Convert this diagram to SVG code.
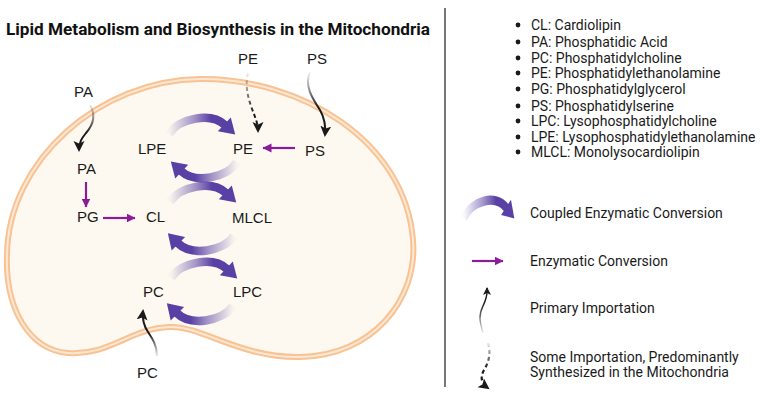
<svg xmlns="http://www.w3.org/2000/svg" xmlns:xlink="http://www.w3.org/1999/xlink" width="760" height="408" viewBox="0 0 760 408">
<style>
.lbl{font-family:"Liberation Sans",Arial,sans-serif;font-size:15px;fill:#1a1a1a}
.leg{font-family:Roboto,"Liberation Sans",sans-serif;font-size:14px;fill:#1a1a1a}
.title{font-family:Roboto,"Liberation Sans",sans-serif;font-size:17px;font-weight:bold;fill:#111}
.enz{stroke:#8a1c9a;stroke-width:2.2;fill:none;marker-end:url(#mPurple)}
.imp{stroke-width:2;fill:none;marker-end:url(#mBlack)}
</style>
<defs>
<marker id="mPurple" markerUnits="userSpaceOnUse" markerWidth="10" markerHeight="10" refX="8.5" refY="4.5" orient="auto"><path d="M0,0 L9,4.5 L0,9 z" fill="#8a1c9a"/></marker>
<marker id="mBlack" markerUnits="userSpaceOnUse" markerWidth="12" markerHeight="12" refX="9" refY="5.5" orient="auto"><path d="M0,0 L11,5.5 L0,11 L2.5,5.5 z" fill="#1a1a1a"/></marker>
<marker id="mBlackS" markerUnits="userSpaceOnUse" markerWidth="9" markerHeight="9" refX="7" refY="4" orient="auto"><path d="M0,0 L8,4 L0,8 L2,4 z" fill="#1a1a1a"/></marker>
<linearGradient id="gArc" x1="0" y1="0" x2="1" y2="0">
<stop offset="0" stop-color="#5840a5" stop-opacity="0.03"/>
<stop offset="0.45" stop-color="#5840a5" stop-opacity="0.55"/>
<stop offset="0.75" stop-color="#5840a5" stop-opacity="1"/>
</linearGradient>
<g id="carc">
<path d="M0 0 C10 -16 42 -22 56 -9" fill="none" stroke="url(#gArc)" stroke-width="8.5"/>
<polygon points="48.8,-2.8 61.8,-16.6 66.2,0.5" fill="#5840a5"/>
</g>
<linearGradient id="gPA" gradientUnits="userSpaceOnUse" x1="90" y1="104" x2="86" y2="133"><stop offset="0" stop-color="#1a1a1a" stop-opacity="0.05"/><stop offset="1" stop-color="#1a1a1a"/></linearGradient>
<linearGradient id="gPS" gradientUnits="userSpaceOnUse" x1="310" y1="72" x2="318" y2="108"><stop offset="0" stop-color="#1a1a1a" stop-opacity="0.05"/><stop offset="1" stop-color="#1a1a1a"/></linearGradient>
<linearGradient id="gPE" gradientUnits="userSpaceOnUse" x1="248" y1="72" x2="254" y2="112"><stop offset="0" stop-color="#1a1a1a" stop-opacity="0.05"/><stop offset="1" stop-color="#1a1a1a"/></linearGradient>
<linearGradient id="gPC" gradientUnits="userSpaceOnUse" x1="157" y1="357" x2="149" y2="334"><stop offset="0" stop-color="#1a1a1a" stop-opacity="0.05"/><stop offset="1" stop-color="#1a1a1a"/></linearGradient>
<linearGradient id="gL1" gradientUnits="userSpaceOnUse" x1="483" y1="334" x2="484" y2="305"><stop offset="0" stop-color="#1a1a1a" stop-opacity="0.05"/><stop offset="1" stop-color="#1a1a1a"/></linearGradient>
<linearGradient id="gL2" gradientUnits="userSpaceOnUse" x1="488" y1="342" x2="486" y2="368"><stop offset="0" stop-color="#1a1a1a" stop-opacity="0.05"/><stop offset="1" stop-color="#1a1a1a"/></linearGradient>
</defs>
<rect width="760" height="408" fill="#ffffff"/>
<text class="title" x="6" y="35" textLength="424" lengthAdjust="spacingAndGlyphs">Lipid Metabolism and Biosynthesis in the Mitochondria</text>

<g id="mitochondrion">
<path id="mem" d="M200 79 C300 78 405 140 413 240 C418 300 372 356 300 357 C240 358 202 326 170 327 C130 328 110 356 68 353 C30 350 5 310 7 255 C8 160 100 80 200 79 Z" fill="#fef9f0" stroke="#f8c394" stroke-width="6"/>
<path d="M200 79 C300 78 405 140 413 240 C418 300 372 356 300 357 C240 358 202 326 170 327 C130 328 110 356 68 353 C30 350 5 310 7 255 C8 160 100 80 200 79 Z" fill="none" stroke="#fde7d3" stroke-width="2"/>
</g>

<g id="connectors">
<use xlink:href="#carc" transform="translate(169,134)"/>
<use xlink:href="#carc" transform="translate(237,162) rotate(180)"/>
<use xlink:href="#carc" transform="translate(170,202)"/>
<use xlink:href="#carc" transform="translate(234,236) rotate(182)"/>
<use xlink:href="#carc" transform="translate(171,278)"/>
<use xlink:href="#carc" transform="translate(233,306) rotate(182)"/>
<line class="enz" x1="86" y1="182" x2="86" y2="207"/>
<line class="enz" x1="103" y1="218" x2="135" y2="218"/>
<line class="enz" x1="295" y1="148" x2="263" y2="148"/>
<path class="imp" stroke="url(#gPA)" d="M90 105 C96 115 93 125 86 133 C82 138 79 142 79 150"/>
<path class="imp" stroke="url(#gPS)" d="M310 72 C304 85 312 98 320 110 C324 117 326 124 325 135"/>
<path class="imp" stroke="url(#gPE)" stroke-width="2.5" stroke-dasharray="4 3" d="M248 73 C244 88 250 104 254 114 C256 120 258 124 258 131"/>
<path class="imp" stroke="url(#gPC)" d="M157 356 C157 345 152 338 148 332 C144 326 142 320 143 311"/>
</g>

<g id="labels">
<text class="lbl" x="238" y="64">PE</text>
<text class="lbl" x="307" y="64">PS</text>
<text class="lbl" x="74" y="97">PA</text>
<text class="lbl" x="138" y="154">LPE</text>
<text class="lbl" x="233" y="154">PE</text>
<text class="lbl" x="305" y="156">PS</text>
<text class="lbl" x="77" y="174">PA</text>
<text class="lbl" x="77" y="222">PG</text>
<text class="lbl" x="146" y="222">CL</text>
<text class="lbl" x="232" y="223">MLCL</text>
<text class="lbl" x="143" y="297">PC</text>
<text class="lbl" x="233" y="297">LPC</text>
<text class="lbl" x="137" y="378">PC</text>
</g>

<line id="separator" x1="445" y1="8" x2="445" y2="387" stroke="#555" stroke-width="1.6"/>

<g id="abbreviations" class="leg">
<g fill="#1a1a1a">
<circle cx="518" cy="25" r="2.4"/><circle cx="518" cy="42" r="2.4"/><circle cx="518" cy="58" r="2.4"/>
<circle cx="518" cy="73" r="2.4"/><circle cx="518" cy="89" r="2.4"/><circle cx="518" cy="106" r="2.4"/>
<circle cx="518" cy="121" r="2.4"/><circle cx="518" cy="137" r="2.4"/><circle cx="518" cy="152" r="2.4"/>
</g>
<text class="leg" x="531" y="30">CL: Cardiolipin</text>
<text class="leg" x="531" y="47">PA: Phosphatidic Acid</text>
<text class="leg" x="531" y="63">PC: Phosphatidylcholine</text>
<text class="leg" x="531" y="78">PE: Phosphatidylethanolamine</text>
<text class="leg" x="531" y="94">PG: Phosphatidylglycerol</text>
<text class="leg" x="531" y="111">PS: Phosphatidylserine</text>
<text class="leg" x="531" y="126">LPC: Lysophosphatidylcholine</text>
<text class="leg" x="531" y="142">LPE: Lysophosphatidylethanolamine</text>
<text class="leg" x="531" y="157">MLCL: Monolysocardiolipin</text>
</g>

<g id="legend">
<use xlink:href="#carc" transform="translate(464,218) scale(0.76,1.1)"/>
<text class="leg" x="530" y="218">Coupled Enzymatic Conversion</text>
<line class="enz" x1="472" y1="261" x2="503" y2="261"/>
<text class="leg" x="530" y="266">Enzymatic Conversion</text>
<path fill="none" stroke="url(#gL1)" stroke-width="1.4" marker-end="url(#mBlackS)" d="M483 333 C480 322 478 316 483 306 C488 296 487 293 487 288"/>
<text class="leg" x="530" y="313">Primary Importation</text>
<path fill="none" stroke="url(#gL2)" stroke-width="2.2" stroke-dasharray="4 3" marker-end="url(#mBlack)" d="M488 343 C491 353 489 362 484 370 C480 377 481 383 488 388"/>
<text class="leg" x="530" y="362">Some Importation, Predominantly</text>
<text class="leg" x="530" y="377">Synthesized in the Mitochondria</text>
</g>
</svg>
